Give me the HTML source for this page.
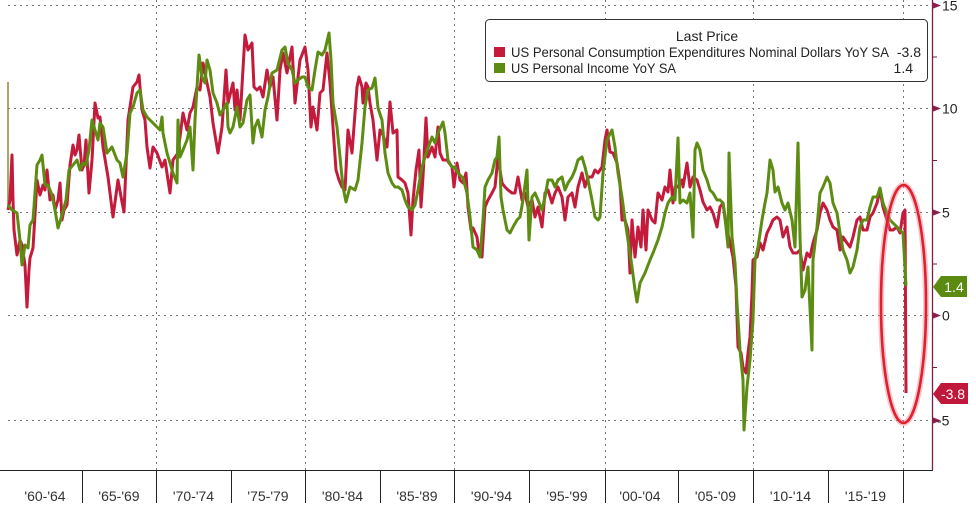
<!DOCTYPE html>
<html><head><meta charset="utf-8"><style>
html,body{margin:0;padding:0;background:#fff;}
svg{display:block;font-family:"Liberation Sans",sans-serif;}
</style></head><body>
<svg width="976" height="507" viewBox="0 0 976 507" xmlns="http://www.w3.org/2000/svg">
<rect width="976" height="507" fill="#fff"/>
<!-- gridlines -->
<g stroke="#777" stroke-width="1" stroke-dasharray="2,4" fill="none">
<line x1="8" y1="5.5" x2="932" y2="5.5"/>
<line x1="8" y1="108.5" x2="932" y2="108.5"/>
<line x1="8" y1="212.5" x2="932" y2="212.5"/>
<line x1="8" y1="315.5" x2="932" y2="315.5"/>
<line x1="8" y1="420.5" x2="932" y2="420.5"/>
<line x1="156.5" y1="0" x2="156.5" y2="470"/>
<line x1="305.5" y1="0" x2="305.5" y2="470"/>
<line x1="454.5" y1="0" x2="454.5" y2="470"/>
<line x1="605.5" y1="0" x2="605.5" y2="470"/>
<line x1="753.5" y1="0" x2="753.5" y2="470"/>
<line x1="903.5" y1="0" x2="903.5" y2="470"/>
</g>
<!-- x axis -->
<g stroke="#222" stroke-width="1">
<line x1="0" y1="470.5" x2="933" y2="470.5"/>
<line x1="82.5" y1="470" x2="82.5" y2="503"/>
<line x1="156.5" y1="470" x2="156.5" y2="503"/>
<line x1="231.5" y1="470" x2="231.5" y2="503"/>
<line x1="305.5" y1="470" x2="305.5" y2="503"/>
<line x1="380.5" y1="470" x2="380.5" y2="503"/>
<line x1="454.5" y1="470" x2="454.5" y2="503"/>
<line x1="529.5" y1="470" x2="529.5" y2="503"/>
<line x1="605.5" y1="470" x2="605.5" y2="503"/>
<line x1="678.5" y1="470" x2="678.5" y2="503"/>
<line x1="753.5" y1="470" x2="753.5" y2="503"/>
<line x1="828.5" y1="470" x2="828.5" y2="503"/>
<line x1="903.5" y1="470" x2="903.5" y2="503"/>
</g>
<g font-size="14" fill="#333" text-anchor="middle">
<text x="45" y="501">'60-'64</text>
<text x="119" y="501">'65-'69</text>
<text x="193.5" y="501">'70-'74</text>
<text x="268" y="501">'75-'79</text>
<text x="342.5" y="501">'80-'84</text>
<text x="417" y="501">'85-'89</text>
<text x="491.5" y="501">'90-'94</text>
<text x="567" y="501">'95-'99</text>
<text x="640" y="501">'00-'04</text>
<text x="715.5" y="501">'05-'09</text>
<text x="790.5" y="501">'10-'14</text>
<text x="865.5" y="501">'15-'19</text>
</g>
<!-- right axis -->
<line x1="932.5" y1="0" x2="932.5" y2="470" stroke="#7a1f45" stroke-width="1.3"/>
<g fill="#8a1f4a">
<polygon points="932,2 941,5.5 932,9"/>
<polygon points="932,105 941,108.5 932,112"/>
<polygon points="932,209 941,212.5 932,216"/>
<polygon points="932,312 941,315.5 932,319"/>
<polygon points="932,417 941,420.5 932,424"/>
</g>
<g stroke="#7a1f45" stroke-width="1">
<line x1="932" y1="57" x2="937" y2="57"/>
<line x1="932" y1="160.5" x2="937" y2="160.5"/>
<line x1="932" y1="264" x2="937" y2="264"/>
<line x1="932" y1="367.5" x2="937" y2="367.5"/>
</g>
<g font-size="14" fill="#222">
<text x="942" y="10.5">15</text>
<text x="942" y="113.5">10</text>
<text x="942" y="217.5">5</text>
<text x="942" y="320.5">0</text>
<text x="937" y="425.5">-5</text>
</g>
<!-- series -->
<line x1="8" y1="82" x2="8" y2="206" stroke="#8a8a30" stroke-width="1.5"/>
<polyline fill="none" stroke="#c41a3c" stroke-width="3" stroke-linejoin="round" points="8,210 10,200 12,155 13,200 14,230 17,255 20,240 22,245 25,265 27,307 29,270 30,258 33,248 35,215 37,180 40,195 43,185 45,190 47,170 50,200 53,195 55,210 58,200 60,183 62,220 64,210 67,205 70,165 73,145 75,155 77,150 79,135 82,170 84,165 86,140 89,193 92,160 95,103 98,118 100,117 103,147 108,177 113,217 118,180 122,202 124,212 128,120 133,87 137,82 139,75 142,110 145,120 147,147 150,168 153,147 157,153 162,167 165,160 168,180 170,193 173,160 178,153 183,113 187,130 190,113 193,107 197,87 200,90 203,63 207,83 210,97 213,123 218,153 222,127 226,70 228,103 233,83 235,110 237,90 240,120 245,35 248,50 252,43 254,87 257,90 260,87 263,97 267,70 270,87 273,77 277,120 280,70 283,53 287,73 292,47 295,103 300,60 305,47 308,70 311,127 313,107 317,130 320,93 323,90 327,53 330,83 333,127 336,170 339,180 342,187 345,190 348,130 352,153 357,87 359,77 362,87 363,103 366,83 368,87 370,103 373,120 377,160 380,130 383,135 387,147 390,102 393,133 397,130 398,177 402,180 405,183 408,193 411,235 413,200 416,170 419,150 421,207 423,177 426,118 428,157 432,147 435,157 438,127 440,153 443,160 447,160 452,167 454,187 457,163 460,180 463,183 466,173 468,207 471,230 473,228 477,237 479,253 482,257 485,207 488,200 492,193 495,187 498,157 502,183 505,187 508,190 512,193 515,193 518,177 522,200 525,193 528,207 532,200 535,217 538,207 542,227 545,193 548,190 552,203 555,193 558,187 562,197 565,220 568,197 572,193 575,207 578,187 582,173 585,187 588,177 592,177 595,170 598,173 602,167 605,140 607,130 610,152 613,153 617,163 620,183 622,220 625,220 628,230 630,273 632,220 635,257 638,227 641,247 643,210 646,250 648,210 652,220 655,223 658,193 662,200 665,187 668,192 670,170 673,203 675,187 678,187 682,180 683,187 687,163 690,187 693,177 697,180 700,190 703,202 707,210 710,207 713,213 717,227 720,207 723,203 727,230 730,243 733,257 736,287 738,347 741,353 743,367 746,373 748,353 750,337 752,293 753,260 757,257 760,243 763,250 767,233 770,227 773,220 777,217 780,220 783,237 787,227 790,247 793,253 797,253 800,250 803,270 807,253 810,257 813,243 817,230 820,213 823,203 827,210 830,220 833,227 837,230 840,250 843,237 847,243 850,247 853,237 857,220 860,217 863,230 867,230 870,217 873,213 877,203 880,190 883,207 887,220 890,230 893,230 897,227 900,233 903,213 905,210 906,393"/>
<polyline fill="none" stroke="#5c8c12" stroke-width="3" stroke-linejoin="round" points="8,205 12,210 17,213 20,240 22,265 25,245 28,248 30,225 33,220 37,165 40,160 42,155 45,185 48,185 52,195 55,210 58,228 62,215 66,200 69,170 73,165 77,160 80,170 83,163 86,165 89,150 92,120 95,130 98,140 100,123 103,127 107,153 112,147 117,160 120,163 123,177 127,153 130,113 133,107 137,93 140,90 143,110 147,117 150,120 153,123 157,127 160,130 162,117 163,133 167,153 170,163 173,173 177,183 178,120 180,157 183,150 187,140 190,127 193,170 195,120 199,55 202,77 205,83 207,60 210,70 213,93 217,103 220,115 223,110 227,103 228,127 230,133 233,127 237,107 240,127 243,123 247,100 250,95 253,143 255,127 258,120 262,137 265,110 268,97 272,73 277,70 282,50 285,47 288,63 292,70 295,83 298,80 302,77 305,77 308,87 312,90 315,70 318,52 322,55 325,50 329,33 331,60 333,103 337,127 339,147 343,187 346,202 350,187 355,190 358,180 362,143 365,107 368,90 372,88 375,78 378,108 382,120 385,153 388,173 392,183 395,187 398,187 402,190 405,200 408,207 412,210 415,205 418,190 422,167 425,157 428,148 432,137 435,143 438,133 443,122 445,133 448,160 452,167 455,167 458,173 463,178 467,193 470,217 473,247 477,250 480,257 483,220 485,187 488,180 492,173 495,160 497,157 499,137 501,197 503,210 507,230 510,233 513,227 517,220 520,217 523,200 527,170 529,240 532,197 535,193 538,200 542,210 545,197 548,180 552,180 555,187 558,180 562,177 565,190 568,183 572,177 575,170 578,160 582,157 585,167 588,180 592,200 595,217 598,220 600,217 603,173 607,140 612,130 615,147 618,173 622,197 625,220 628,240 632,267 635,290 637,302 640,283 645,273 650,260 653,253 658,240 662,227 665,213 668,203 672,197 675,200 678,138 680,203 683,200 687,203 690,193 693,237 695,150 697,143 700,150 703,170 707,180 710,190 713,193 717,200 720,200 723,203 726,227 728,247 729,153 732,237 735,263 737,303 740,350 743,380 744,430 747,387 750,360 753,320 755,260 758,247 762,220 765,203 767,193 770,160 773,170 775,192 778,187 782,203 785,210 788,203 792,220 795,247 798,143 800,237 802,297 805,290 808,267 812,350 813,260 817,227 820,193 823,187 827,177 830,183 833,203 837,213 840,233 843,250 847,260 850,273 853,267 857,250 860,227 863,220 867,220 870,207 873,197 877,197 880,188 883,203 887,213 890,220 893,223 897,227 900,230 903,233 906,286"/>
<!-- ellipse highlight -->
<ellipse cx="903.5" cy="304" rx="22.5" ry="119" fill="none" stroke="#f08090" stroke-opacity="0.45" stroke-width="6"/>
<ellipse cx="903.5" cy="304" rx="22.5" ry="119" fill="none" stroke="#e0202e" stroke-width="2.6"/>
<!-- value flags -->
<polygon points="933,287 941,276 967,276 967,297 941,297" fill="#5a8a10"/>
<text x="954" y="292" font-size="14" fill="#fff" text-anchor="middle">1.4</text>
<polygon points="933,394 941,383 968,383 968,404 941,404" fill="#c0183a"/>
<text x="953" y="399" font-size="14" fill="#fff" text-anchor="middle">-3.8</text>
<!-- legend -->
<rect x="485.5" y="19.5" width="442" height="62" rx="4" ry="4" fill="#fff" stroke="#333" stroke-width="1"/>
<text x="707" y="41" font-size="14" fill="#222" text-anchor="middle">Last Price</text>
<rect x="494" y="47" width="11" height="10" fill="#c41a3c"/>
<rect x="494" y="63" width="11" height="10" fill="#5c8c12"/>
<text x="511" y="57" font-size="14" fill="#222" textLength="378" lengthAdjust="spacingAndGlyphs">US Personal Consumption Expenditures Nominal Dollars YoY SA</text>
<text x="921" y="57" font-size="14" fill="#222" text-anchor="end">-3.8</text>
<text x="511" y="73" font-size="14" fill="#222" textLength="165" lengthAdjust="spacingAndGlyphs">US Personal Income YoY SA</text>
<text x="913" y="73" font-size="14" fill="#222" text-anchor="end">1.4</text>
</svg>
</body></html>
